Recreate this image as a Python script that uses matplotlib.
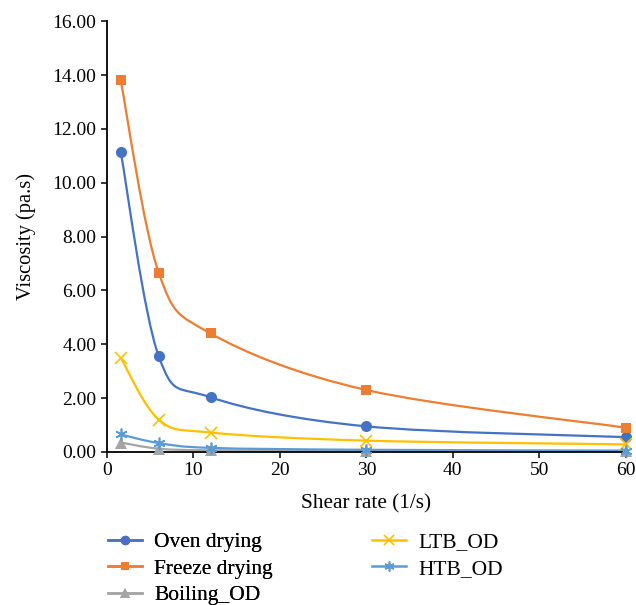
import numpy as np
import matplotlib
matplotlib.use("Agg")
import matplotlib.pyplot as plt
from matplotlib.path import Path
from matplotlib.patches import PathPatch
from matplotlib.lines import Line2D

plt.rcParams['font.family'] = ['Liberation Serif', 'DejaVu Serif']

shear_rate = [1.6, 6, 12, 30, 60]
oven_drying = [11.15, 3.55, 2.03, 0.95, 0.55]
freeze_drying = [13.8, 6.65, 4.4, 2.3, 0.9]
boiling_od = [0.35, 0.12, 0.06, 0.03, 0.02]
ltb_od = [3.5, 1.2, 0.72, 0.42, 0.28]
htb_od = [0.65, 0.33, 0.15, 0.08, 0.05]

series = [
    ("Oven drying", oven_drying, "#4472C4", "o", 8, None),
    ("Freeze drying", freeze_drying, "#ED7D31", "s", 6.8, None),
    ("Boiling_OD", boiling_od, "#A5A5A5", "^", 8, None),
    ("LTB_OD", ltb_od, "#FFC000", "x", 8.5, 1.2),
    ("HTB_OD", htb_od, "#5B9BD5", (6, 2, 0), 8.5, 1.2),
]


def smooth_path(x, y):
    pts = np.column_stack([x, y]).astype(float)
    n = len(pts)
    verts = [pts[0]]
    codes = [Path.MOVETO]
    for i in range(n - 1):
        p0 = pts[i - 1] if i > 0 else pts[i]
        p1 = pts[i]
        p2 = pts[i + 1]
        p3 = pts[i + 2] if i + 2 < n else pts[i + 1]
        c1 = p1 + (p2 - p0) / 6.0
        c2 = p2 - (p3 - p1) / 6.0
        verts += [c1, c2, p2]
        codes += [Path.CURVE4] * 3
    return Path(verts, codes)


fig = plt.figure(figsize=(6.36, 6.05), dpi=100)
ax = fig.add_axes([0.168, 0.253, 0.816, 0.712])

handles = []
for label, vals, color, marker, ms, mew in series:
    patch = PathPatch(smooth_path(shear_rate, vals), facecolor='none',
                      edgecolor=color, lw=1.6, transform=ax.transData, zorder=2)
    ax.add_patch(patch)
    kw = dict(markeredgewidth=mew) if mew else dict(markeredgewidth=0)
    ax.plot(shear_rate, vals, linestyle='none', marker=marker, ms=ms,
            color=color, zorder=3, clip_on=False, **kw)
    handles.append(Line2D([0], [0], color=color, lw=1.8, marker=marker,
                          ms=ms * 0.85, **kw))

ax.set_xlim(0, 60)
ax.set_ylim(0, 16)
ax.set_xticks(np.arange(0, 61, 10))
ax.set_yticks(np.arange(0, 16.1, 2))
ax.set_yticklabels([f"{v:.2f}" for v in np.arange(0, 16.1, 2)])
for s in ['top', 'right']:
    ax.spines[s].set_visible(False)
for s in ['left', 'bottom']:
    ax.spines[s].set_linewidth(1.3)
ax.tick_params(direction='out', length=4, width=1.1, labelsize=14)
ax.set_xlabel("Shear rate (1/s)", fontsize=15.3, labelpad=11)
ax.set_ylabel("Viscosity (pa.s)", fontsize=14.8, labelpad=12)

legkw = dict(loc='upper left', frameon=False, fontsize=15.5, handlelength=1.6,
             labelspacing=0.3, handletextpad=0.55, borderaxespad=0,
             borderpad=0)
leg1 = fig.legend(handles[:3], [s[0] for s in series[:3]],
                  bbox_to_anchor=(108 / 636, 1 - 532 / 605), **legkw)
fig.add_artist(leg1)
leg2 = fig.legend(handles[3:], [s[0] for s in series[3:]],
                  bbox_to_anchor=(372 / 636, 1 - 532 / 605), **legkw)

fig.savefig("out.png", dpi=100)
